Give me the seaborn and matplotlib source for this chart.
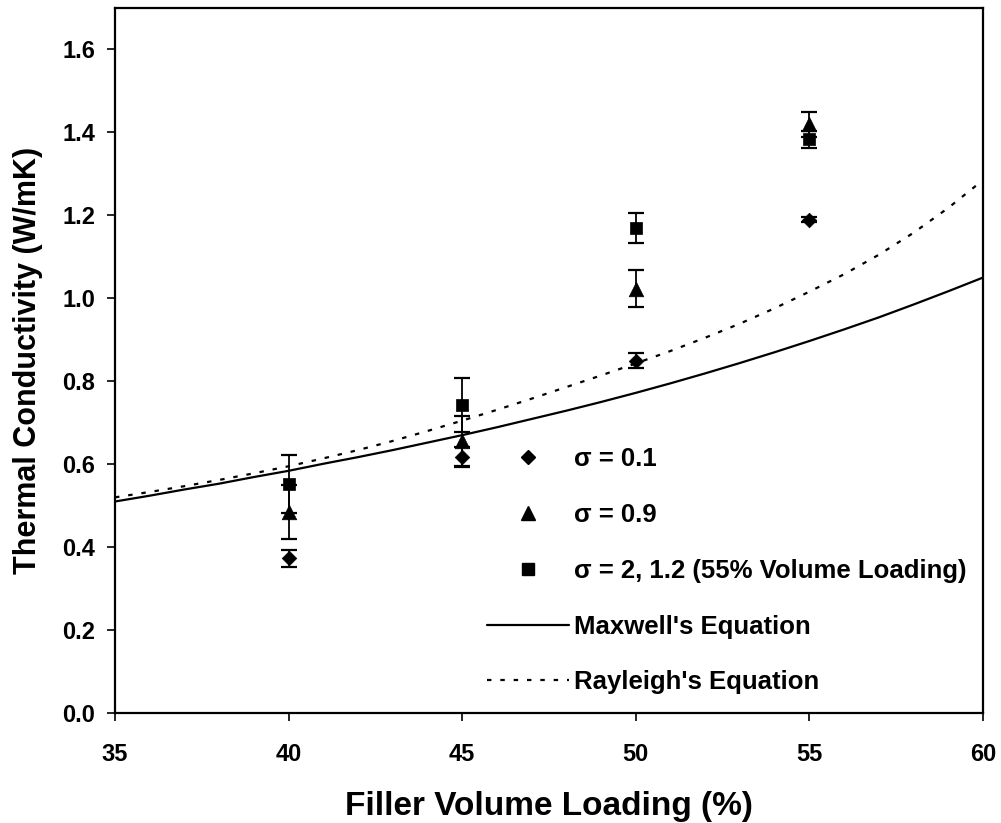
import matplotlib
matplotlib.use("Agg")
import matplotlib.pyplot as plt
import seaborn as sns
import pandas as pd
from matplotlib.lines import Line2D

# ---- data ----
loading = [40, 45, 50, 55]
k_sigma01 = [0.373, 0.617, 0.850, 1.190]
err_sigma01 = [0.020, 0.025, 0.018, 0.005]
k_sigma09 = [0.485, 0.655, 1.023, 1.420]
err_sigma09 = [0.065, 0.060, 0.045, 0.030]
k_sigma2 = [0.553, 0.743, 1.170, 1.383]
err_sigma2 = [0.070, 0.065, 0.036, 0.020]

curve_x = [35, 36, 37, 38, 39, 40, 41, 42, 43, 44, 45, 46, 47,
           48, 49, 50, 51, 52, 53, 54, 55, 56, 57, 58, 59, 60]
maxwell = [0.510, 0.524, 0.539, 0.553, 0.569, 0.584, 0.601, 0.617, 0.634,
           0.652, 0.670, 0.689, 0.709, 0.729, 0.750, 0.772, 0.795, 0.819,
           0.844, 0.870, 0.897, 0.925, 0.954, 0.985, 1.017, 1.050]
rayleigh = [0.520, 0.533, 0.547, 0.562, 0.578, 0.595, 0.614, 0.634, 0.656,
            0.680, 0.705, 0.731, 0.758, 0.786, 0.814, 0.843, 0.873, 0.905,
            0.939, 0.976, 1.016, 1.058, 1.105, 1.158, 1.218, 1.285]

labels = ["σ = 0.1", "σ = 0.9", "σ = 2, 1.2 (55% Volume Loading)",
          "Maxwell's Equation", "Rayleigh's Equation"]
x_label = "Filler Volume Loading (%)"
y_label = "Thermal Conductivity (W/mK)"
x_ticks = [35, 40, 45, 50, 55, 60]
y_ticks = [0.0, 0.2, 0.4, 0.6, 0.8, 1.0, 1.2, 1.4, 1.6]

# ---- style ----
sns.set_style("ticks")
plt.rcParams["font.family"] = ["Liberation Sans", "DejaVu Sans"]
plt.rcParams["font.weight"] = "bold"
plt.rcParams["axes.labelweight"] = "bold"
plt.rcParams["text.color"] = "black"
plt.rcParams["axes.labelcolor"] = "black"

fig = plt.figure(figsize=(10.01, 8.23), dpi=100)
ax = fig.add_axes([115 / 1001, 1 - 713 / 823, 868 / 1001, 705 / 823])

# curves
sns.lineplot(x=curve_x, y=maxwell, color="black", lw=1.6, ax=ax)
sns.lineplot(x=curve_x, y=rayleigh, color="black", lw=1.6,
             linestyle=(0, (2, 4)), ax=ax)

series = [
    (k_sigma01, err_sigma01, "D", 55),
    (k_sigma09, err_sigma09, "^", 110),
    (k_sigma2, err_sigma2, "s", 85),
]
for vals, errs, mk, s in series:
    ax.errorbar(loading, vals, yerr=errs, fmt="none", ecolor="black",
                elinewidth=1.3, capsize=6, capthick=1.6, zorder=3)
    df = pd.DataFrame({"x": loading, "y": vals})
    sns.scatterplot(data=df, x="x", y="y", marker=mk, s=s, color="black",
                    edgecolor="black", linewidth=0.5, ax=ax, zorder=4,
                    legend=False)

ax.set_xlim(35, 60)
ax.set_ylim(0, 1.7)
ax.set_xticks(x_ticks)
ax.set_yticks(y_ticks)
ax.set_yticklabels([f"{v:.1f}" for v in y_ticks])
ax.tick_params(axis="both", direction="out", length=5.5, width=1.2,
               labelsize=17, colors="black")
ax.tick_params(axis="x", pad=16)
ax.tick_params(axis="y", pad=8.6)
for sp in ax.spines.values():
    sp.set_linewidth(1.6)
    sp.set_color("black")

ax.set_xlabel(x_label, fontsize=24, fontweight="bold", labelpad=18)
ax.set_ylabel(y_label, fontsize=22, fontweight="bold", labelpad=14)

handles = [
    Line2D([], [], marker="D", ls="none", color="black", markersize=7),
    Line2D([], [], marker="^", ls="none", color="black", markersize=10),
    Line2D([], [], marker="s", ls="none", color="black", markersize=9),
    Line2D([], [], color="black", lw=1.6),
    Line2D([], [], color="black", lw=1.6, linestyle=(0, (2, 4))),
]
ax.legend(handles, labels, loc="upper left",
          bbox_to_anchor=((487 - 115) / 868, (713 - 447) / 705),
          frameon=False, borderpad=0, borderaxespad=0,
          handlelength=3.2, handletextpad=0.2, labelspacing=1.24,
          prop={"size": 18.5, "weight": "bold"})

fig.savefig("out.png", dpi=100)
